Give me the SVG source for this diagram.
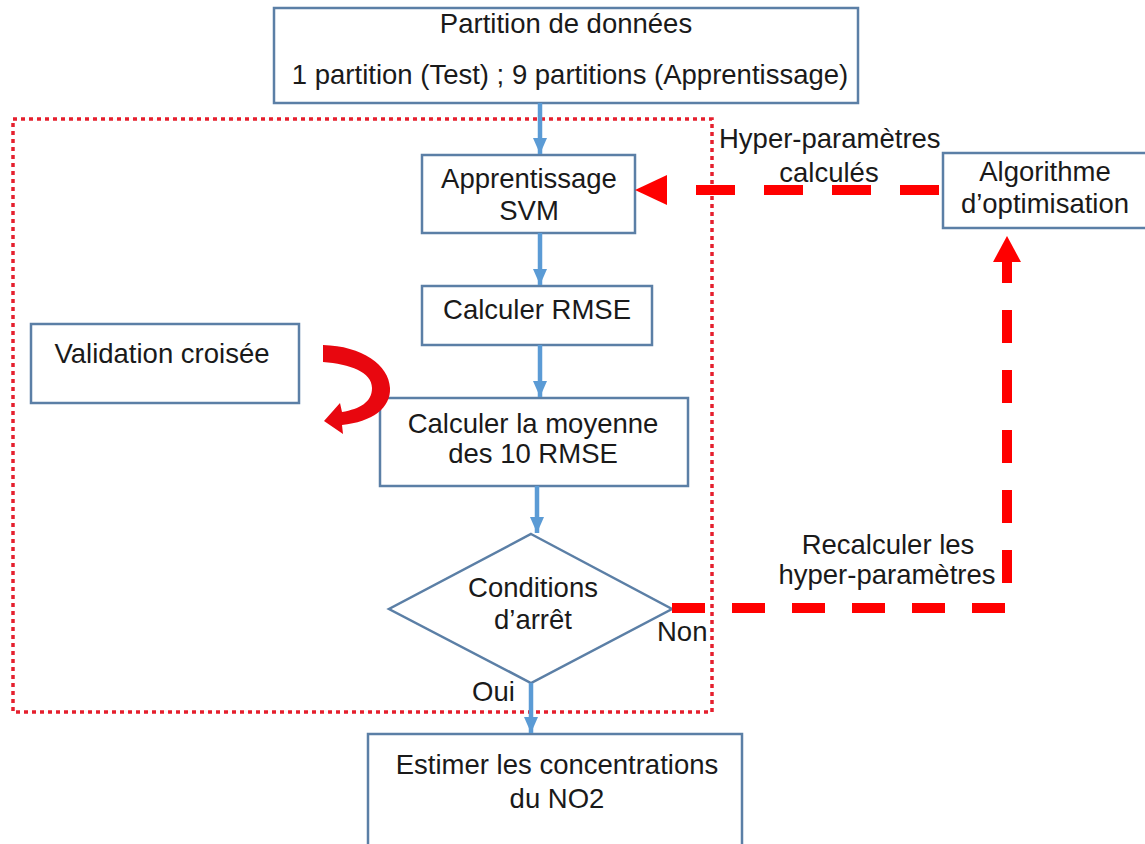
<svg xmlns="http://www.w3.org/2000/svg" width="1145" height="844" viewBox="0 0 1145 844">
<defs>
<style>
.box{fill:#fff;stroke:#5b7fa6;stroke-width:2.5}
.t{font-family:"Liberation Sans",Arial,sans-serif;font-size:27.5px;fill:#1a1a1a;text-anchor:middle}
.tl{font-family:"Liberation Sans",Arial,sans-serif;font-size:27.5px;fill:#1a1a1a}
.flow{stroke:#5b9bd5;stroke-width:4.5;fill:none}
.red{stroke:#ff0000;stroke-width:10;fill:none}
</style>
<marker id="ab" markerUnits="userSpaceOnUse" markerWidth="18" markerHeight="14" refX="16" refY="7" orient="auto">
<path d="M0,0 L16,7 L0,14 Z" fill="#5b9bd5"/>
</marker>
</defs>
<rect width="1145" height="844" fill="#fff"/>
<rect x="13" y="119" width="699" height="593" fill="none" stroke="#e5202e" stroke-width="3.5" stroke-dasharray="4 4"/>

<g id="n-partition"><rect class="box" x="274" y="8" width="584" height="95"/>
<text class="t" x="566" y="33">Partition de données</text>
<text class="t" x="570" y="84">1 partition (Test) ; 9 partitions (Apprentissage)</text></g>

<g id="n-apprentissage"><rect class="box" x="422" y="155" width="213" height="78"/>
<text class="t" x="529" y="188">Apprentissage</text>
<text class="t" x="529" y="220">SVM</text></g>

<g id="n-rmse"><rect class="box" x="422" y="286" width="230" height="59"/>
<text class="t" x="537" y="319">Calculer RMSE</text></g>

<g id="n-validation"><rect class="box" x="31" y="324" width="268" height="79"/>
<text class="t" x="162" y="363">Validation croisée</text></g>

<g id="n-moyenne"><rect class="box" x="380" y="398" width="308" height="88"/>
<text class="t" x="533" y="433">Calculer la moyenne</text>
<text class="t" x="533" y="463">des 10 RMSE</text></g>

<g id="n-conditions"><path class="box" d="M531,534 L672,609 L531,683 L389,609 Z"/>
<text class="t" x="533" y="597">Conditions</text>
<text class="t" x="533" y="629">d’arrêt</text></g>

<g id="n-algo"><rect class="box" x="943" y="153" width="210" height="75"/>
<text class="t" x="1045" y="181">Algorithme</text>
<text class="t" x="1045" y="213">d’optimisation</text></g>

<g id="n-estimer"><rect class="box" x="368" y="734" width="374" height="120"/>
<text class="t" x="557" y="774">Estimer les concentrations</text>
<text class="t" x="557" y="808">du NO2</text></g>

<g id="connectors">
<line class="flow" x1="540" y1="103" x2="540" y2="154" marker-end="url(#ab)"/>
<line class="flow" x1="540" y1="233" x2="540" y2="285" marker-end="url(#ab)"/>
<line class="flow" x1="540" y1="345" x2="540" y2="397" marker-end="url(#ab)"/>
<line class="flow" x1="537" y1="486" x2="537" y2="533" marker-end="url(#ab)"/>
<line class="flow" x1="531" y1="683" x2="531" y2="733" marker-end="url(#ab)"/>
<path class="red" d="M939,190 H667" stroke-dasharray="39 29"/>
<path d="M635,190 L667,175 L667,205 Z" fill="#ff0000"/>
<path class="red" d="M672,608 H1007 V262" stroke-dasharray="33 27"/>
<path d="M1007,236 L1021,262 L993,262 Z" fill="#ff0000"/>
<path d="M323,345 L323,362 C350,364 372,372 372,388 C372,402 360,409 342,412 L340,403 L324,421 L343,434 L342,425 C372,422 391,408 390,388 C389,365 362,346 323,345 Z" fill="#e8070f"/>
<text class="tl" x="719" y="148">Hyper-paramètres</text>
<text class="t" x="829" y="182">calculés</text>
<text class="t" x="888" y="554">Recalculer les</text>
<text class="t" x="887" y="584">hyper-paramètres</text>
<text class="tl" x="657" y="641">Non</text>
<text class="tl" x="472" y="701">Oui</text>
</g>
</svg>
